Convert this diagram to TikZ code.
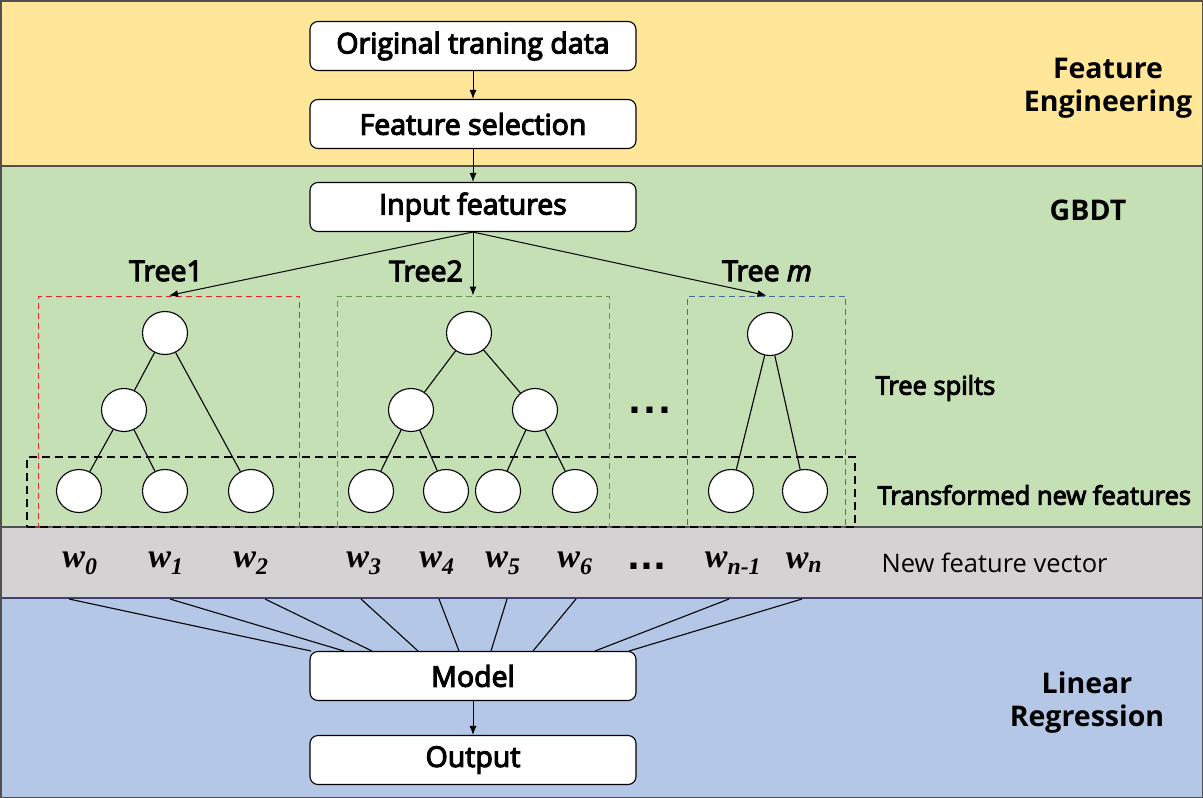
\documentclass[tikz,border=0pt]{standalone}
\usepackage{fontspec}
\setmainfont{Open Sans}
\newfontfamily\medfont{Open Sans}[FakeBold=4]
\newfontfamily\wfont{Liberation Serif}
\newfontfamily\dotfont{DejaVu Sans}
\usetikzlibrary{arrows.meta,shapes.geometric}
\definecolor{bandY}{RGB}{255,230,153}
\definecolor{bandG}{RGB}{197,224,180}
\definecolor{bandGr}{RGB}{212,210,210}
\definecolor{bandB}{RGB}{180,199,231}
\definecolor{sepC}{RGB}{80,80,80}
\definecolor{dRed}{RGB}{230,40,40}
\definecolor{dGreen}{RGB}{100,150,80}
\definecolor{dBlue}{RGB}{70,110,150}
\begin{document}
\begin{tikzpicture}[x=1pt,y=-1pt,
  box/.style={draw=black, line width=1.1pt, fill=white, rounded corners=8pt,
    minimum width=326pt, minimum height=49pt, inner sep=0pt,
    font=\medfont\fontsize{28.5}{32}\selectfont},
  tnode/.style={ellipse, draw=black, line width=1.1pt, fill=white,
    minimum width=45pt, minimum height=43pt, inner sep=0pt},
  arr/.style={-{Latex[length=9pt,width=7pt]}, line width=1pt},
  tedge/.style={line width=1.1pt},
  dbox/.style={line width=1pt, dash pattern=on 6pt off 4pt, inner sep=0pt},
  head/.style={font=\fontsize{28.5}{33}\selectfont\bfseries, align=center},
  tlab/.style={font=\medfont\fontsize{28.5}{32}\selectfont},
  rlab/.style={font=\medfont\fontsize{25.5}{30}\selectfont, anchor=west},
  wl/.style={font=\wfont\fontsize{34}{36}\selectfont\bfseries\itshape},
  dots/.style={font=\dotfont\fontsize{34}{36}\selectfont\bfseries, anchor=base, inner sep=0pt}]
\useasboundingbox (0,0) rectangle (1203,798);
% bands
\fill[bandY] (0,0) rectangle (1203,166);
\fill[bandG] (0,166) rectangle (1203,527);
\fill[bandGr] (0,527) rectangle (1203,598);
\fill[bandB] (0,598) rectangle (1203,798);
\draw[sepC, line width=1.5pt] (0,166) -- (1203,166);
\draw[sepC, line width=1.5pt] (0,527) -- (1203,527);
\draw[sepC!80!blue, line width=1.5pt] (0,598) -- (1203,598);
\draw[sepC, line width=1.5pt] (0.75,0.75) rectangle (1202.25,797.25);
% headings
\node[head] (hfe) at (1108,88) {Feature\\Engineering};
\node[head] (hgb) at (1088,210) {GBDT};
\node[head] (hlr) at (1087,703) {Linear\\Regression};
% main boxes
\node[box] (orig) at (473,46) {Original traning data};
\node[box] (fsel) at (473,124) {Feature selection};
\node[box] (inp) at (473,207) {Input features};
\node[box] (model) at (473,676) {Model};
\node[box] (out) at (473,760) {Output};
\draw[arr] (orig) -- (fsel);
\draw[arr] (fsel) -- (inp);
\draw[arr] (model) -- (out);
% tree boxes
\node[dbox, draw=dRed, minimum width=261pt, minimum height=231pt] (t1) at (169,411.5) {};
\node[dbox, draw=dGreen, minimum width=272pt, minimum height=231pt] (t2) at (473,411.5) {};
\node[dbox, draw=dBlue, minimum width=158pt, minimum height=231pt] (tm) at (766.5,411.5) {};
\node[draw=black, line width=1.3pt, dash pattern=on 8pt off 5pt, inner sep=0pt,
  minimum width=828pt, minimum height=70pt] (leaves) at (441,492) {};
\draw[arr] (inp.south) -- (t1.north);
\draw[arr] (inp.south) -- (t2.north);
\draw[arr] (inp.south) -- (tm.north);
\node[tlab] (lt1) at (166,271) {Tree1};
\node[tlab] (lt2) at (426,271) {Tree2};
\node[tlab] (ltm) at (767,271) {Tree \textit{m}};
% tree 1
\node[tnode] (a0) at (165,333) {};
\node[tnode] (a1) at (124,410) {};
\node[tnode] (a2) at (79,491) {};
\node[tnode] (a3) at (165,491) {};
\node[tnode] (a4) at (251,491) {};
\draw[tedge] (a0) -- (a1);
\draw[tedge] (a0) -- (a4);
\draw[tedge] (a1) -- (a2);
\draw[tedge] (a1) -- (a3);
% tree 2
\node[tnode] (b0) at (469,333) {};
\node[tnode] (b1) at (411,410) {};
\node[tnode] (b2) at (535,410) {};
\node[tnode] (b3) at (371,491) {};
\node[tnode] (b4) at (446,491) {};
\node[tnode] (b5) at (498,491) {};
\node[tnode] (b6) at (575,491) {};
\draw[tedge] (b0) -- (b1);
\draw[tedge] (b0) -- (b2);
\draw[tedge] (b1) -- (b3);
\draw[tedge] (b1) -- (b4);
\draw[tedge] (b2) -- (b5);
\draw[tedge] (b2) -- (b6);
% tree m
\node[tnode] (c0) at (770,334) {};
\node[tnode] (c1) at (731,491) {};
\node[tnode] (c2) at (805,491) {};
\draw[tedge] (c0) -- (c1);
\draw[tedge] (c0) -- (c2);
\node[dots] (dt) at (650,413) {.\kern2.5pt.\kern2.5pt.};
% right labels
\node[rlab] (ls) at (872,388) {Tree spilts};
\node[rlab] (lf) at (874,495) {Transformed new features};
\node[font=\fontsize{25.5}{30}\selectfont, anchor=west] (lv) at (878,563) {New feature vector};
% weights
\node[wl] (w0) at (80,563) {w\textsubscript{0}};
\node[wl] (w1) at (166,563) {w\textsubscript{1}};
\node[wl] (w2) at (251,563) {w\textsubscript{2}};
\node[wl] (w3) at (364,563) {w\textsubscript{3}};
\node[wl] (w4) at (437,563) {w\textsubscript{4}};
\node[wl] (w5) at (503,563) {w\textsubscript{5}};
\node[wl] (w6) at (575,563) {w\textsubscript{6}};
\node[dots] (dw) at (647,569) {.\kern0.5pt.\kern0.5pt.};
\node[wl] (wn1) at (733,563) {w\textsubscript{n-1}};
\node[wl] (wn) at (804,563) {w\textsubscript{n}};
% connectors to model
\foreach \n/\xa/\xb in {w0/69/311, w1/170/344, w2/265/372, w3/361/418, w4/439/459,
    w5/507/491, w6/576/533, wn1/729/595, wn/802/629} {
  \coordinate (s\n) at (\xa,599);
  \coordinate (e\n) at (\xb,651);
  \draw[line width=1.1pt] (s\n) -- (e\n);
}
\end{tikzpicture}
\end{document}
